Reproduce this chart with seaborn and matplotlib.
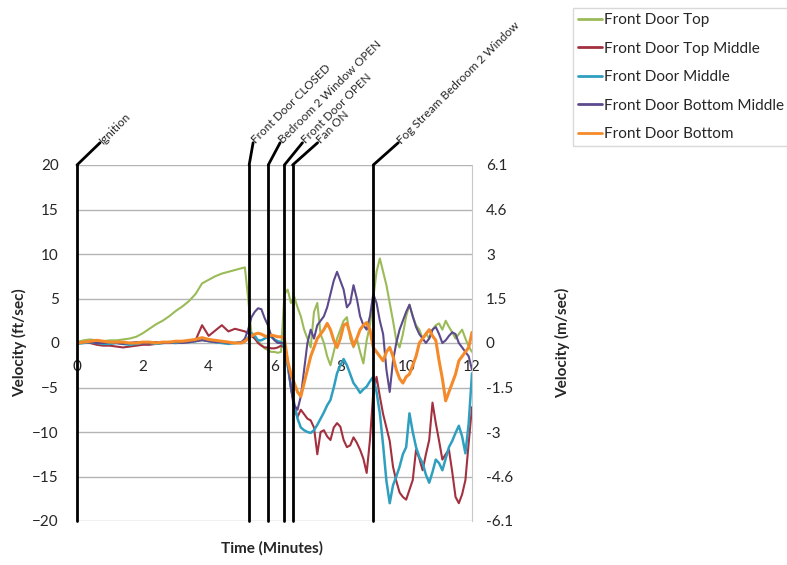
import numpy as np
import pandas as pd
import seaborn as sns
import matplotlib.pyplot as plt
from matplotlib.lines import Line2D

# time in minutes (0.2 min steps to 5, then 0.1 min steps)
times = [0.0, 0.2, 0.4, 0.6, 0.8, 1.0, 1.2, 1.4, 1.6, 1.8, 2.0, 2.2, 2.4,
         2.6, 2.8, 3.0, 3.2, 3.4, 3.6, 3.8, 4.0, 4.2, 4.4, 4.6, 4.8, 5.0,
         5.1, 5.2, 5.3, 5.4, 5.5, 5.6, 5.7, 5.8, 5.9, 6.0,
         6.1, 6.2, 6.3, 6.4, 6.5, 6.6, 6.7, 6.8, 6.9, 7.0,
         7.1, 7.2, 7.3, 7.4, 7.5, 7.6, 7.7, 7.8, 7.9, 8.0,
         8.1, 8.2, 8.3, 8.4, 8.5, 8.6, 8.7, 8.8, 8.9, 9.0,
         9.1, 9.2, 9.3, 9.4, 9.5, 9.6, 9.7, 9.8, 9.9, 10.0,
         10.1, 10.2, 10.3, 10.4, 10.5, 10.6, 10.7, 10.8, 10.9, 11.0,
         11.1, 11.2, 11.3, 11.4, 11.5, 11.6, 11.7, 11.8, 11.9, 12.0]

door_top = [0.1, 0.3, 0.4, 0.3, 0.2, 0.3, 0.3, 0.4, 0.5, 0.7, 1.1, 1.6, 2.1,
            2.5, 3.0, 3.6, 4.1, 4.7, 5.5, 6.7, 7.1, 7.5, 7.8, 8.0, 8.2, 8.4,
            8.5, 5.0, 1.0, 0.5, 0.2, -0.2, -0.6, -0.8, -1.0, -1.0,
            -1.1, -1.0, 5.5, 6.0, 4.5, 5.2, 4.0, 3.0, 1.5, 0.5,
            -0.5, 3.5, 4.5, 1.0, 0.0, -1.5, -2.5, -1.0, 0.5, 1.5,
            2.5, 2.9, 0.5, -0.5, 0.5, -1.0, -2.3, 0.3, 2.0, 5.0,
            8.0, 9.5, 8.0, 6.5, 4.5, 2.5, 0.3, -0.5, 1.0, 3.0,
            4.3, 3.0, 2.0, 1.5, 0.5, 1.1, 0.5, 1.5, 2.0, 2.2,
            1.5, 2.5, 1.8, 1.2, 0.5, 1.0, 1.5, 0.5, -0.4, -1.0]

door_top_middle = [0.0, 0.1, 0.0, -0.2, -0.3, -0.3, -0.4, -0.5, -0.4, -0.3, -0.2, -0.2, -0.1,
                   0.0, 0.0, 0.0, 0.1, 0.1, 0.3, 2.0, 0.8, 1.4, 2.0, 1.3, 1.6, 1.4,
                   1.3, 1.1, 0.8, 0.5, 0.0, -0.3, -0.5, -0.5, -0.6, -0.6,
                   -0.5, -0.3, -0.5, -2.5, -5.0, -7.5, -8.3, -7.5, -8.0, -8.5,
                   -8.7, -9.5, -12.5, -10.0, -9.8, -10.5, -10.9, -9.5, -9.0, -9.4,
                   -10.9, -11.7, -11.5, -10.6, -11.2, -12.0, -13.0, -14.6, -10.9, -5.6,
                   -3.8, -6.0, -8.0, -9.5, -11.0, -13.9, -15.5, -16.8, -17.3, -17.6,
                   -16.5, -15.4, -12.0, -13.0, -14.3, -12.5, -10.9, -6.7, -9.0, -11.0,
                   -13.1, -12.5, -12.0, -14.5, -17.3, -18.0, -17.0, -15.4, -11.2, -7.2]

door_middle = [-0.1, 0.0, 0.1, 0.0, -0.1, -0.1, 0.0, -0.1, -0.2, -0.1, 0.0, 0.0, -0.1,
               0.0, 0.1, 0.0, 0.1, 0.1, 0.2, 0.4, 0.2, 0.1, 0.0, -0.1, 0.0, 0.1,
               0.2, 0.6, 1.1, 0.8, 0.3, 0.3, 0.5, 0.7, 0.7, 0.4,
               0.2, 0.1, -0.5, -2.5, -5.0, -6.8, -8.5, -9.5, -9.8, -10.0,
               -10.1, -9.8, -9.2, -8.5, -7.8, -7.0, -6.4, -5.0, -3.4, -2.5,
               -1.8, -2.5, -3.5, -4.5, -5.0, -5.6, -5.2, -4.9, -4.3, -3.8,
               -5.5, -7.9, -11.5, -15.5, -18.0, -16.0, -15.0, -13.9, -12.5, -11.7,
               -7.9, -10.0, -11.7, -12.8, -13.5, -14.8, -15.7, -14.5, -13.1, -13.5,
               -14.3, -13.0, -11.7, -11.0, -10.1, -9.3, -10.5, -12.4, -9.0, -3.4]

door_bottom_middle = [0.0, 0.1, 0.1, 0.0, 0.0, 0.1, 0.0, -0.1, 0.0, 0.1, 0.0, 0.0, 0.1,
                      0.0, 0.0, 0.1, 0.0, 0.1, 0.2, 0.3, 0.2, 0.1, 0.1, 0.0, 0.0, 0.1,
                      0.5, 1.5, 2.9, 3.5, 3.9, 3.8, 2.8, 2.0, 0.8, 0.3,
                      0.0, 0.0, 0.0, -2.0, -5.0, -7.0, -7.5, -6.0, -3.0, 0.0,
                      1.5, 0.5, 2.0, 2.5, 3.0, 4.0, 5.5, 7.0, 8.0, 7.0,
                      6.0, 4.0, 4.5, 6.5, 5.0, 3.0, 2.0, 1.5, 3.0, 5.5,
                      4.5, 2.5, 1.0, -3.0, -5.5, -2.0, 0.0, 1.5, 2.5, 3.5,
                      4.3, 3.0, 1.8, 1.0, 0.5, 0.0, 0.5, 1.5, 1.8, 1.0,
                      0.0, 0.3, 0.8, 1.2, 1.0, 0.0, -0.5, -1.0, -1.5, -3.0]

door_bottom = [0.0, 0.1, 0.2, 0.3, 0.2, 0.1, 0.1, 0.1, 0.0, 0.0, 0.1, 0.1, 0.0,
               0.1, 0.1, 0.2, 0.2, 0.3, 0.4, 0.6, 0.4, 0.3, 0.2, 0.1, 0.0, 0.0,
               0.2, 0.5, 0.8, 1.0, 1.1, 1.0, 0.8, 0.7, 0.9, 0.8,
               0.7, 0.7, 0.5, -2.0, -3.5, -4.5, -5.5, -6.0, -4.5, -3.0,
               -1.5, -0.5, 0.5, 1.0, 1.5, 2.2, 1.5, 0.3, -0.5, 0.5,
               2.0, 2.2, 1.0, -0.3, 0.5, 1.5, 2.0, 2.3, 1.5, -0.5,
               -1.0, -1.5, -2.0, -1.0, -0.5, -1.5, -3.0, -4.0, -4.5, -3.8,
               -3.5, -2.5, -1.5, 0.0, 0.5, 1.0, 1.5, 0.8, 0.3, -2.0,
               -4.0, -6.5, -5.5, -4.5, -3.5, -2.0, -1.5, -1.0, -0.5, 1.2]

series_names = ['Front Door Top', 'Front Door Top Middle', 'Front Door Middle',
                'Front Door Bottom Middle', 'Front Door Bottom']
series_values = [door_top, door_top_middle, door_middle, door_bottom_middle, door_bottom]
colors = ['#9bbb59', '#a3303f', '#2f9fc0', '#5c4a8c', '#f58a2a']
widths = [1.5, 1.5, 1.8, 1.5, 2.2]

event_times = [0.0, 5.23, 5.81, 6.3, 6.55, 9.0]
event_labels = ['Ignition', 'Front Door CLOSED', 'Bedroom 2 Window OPEN',
                'Front Door OPEN', 'Fan ON', 'Fog Stream Bedroom 2 Window']

ft_ticks = [-20, -15, -10, -5, 0, 5, 10, 15, 20]
ms_labels = ['-6.1', '-4.6', '-3', '-1.5', '0', '1.5', '3', '4.6', '6.1']
x_ticks = [0, 2, 4, 6, 8, 10, 12]

sns.set_style('white')
plt.rcParams['font.family'] = ['Lato', 'DejaVu Sans']

fig = plt.figure(figsize=(7.87, 5.65), dpi=100)
ax = fig.add_axes([77 / 787, 44 / 565, 395 / 787, 356 / 565])

for name, vals, col, lw in zip(series_names, series_values, colors, widths):
    df = pd.DataFrame({'Time': times, 'Velocity': vals})
    sns.lineplot(data=df, x='Time', y='Velocity', color=col, linewidth=lw,
                 ax=ax, sort=False, label=name, legend=False)

ax.set_xlim(0, 12)
ax.set_ylim(-20, 20)
ax.set_yticks(ft_ticks)
ax.set_xticks(x_ticks)
ax.yaxis.grid(True, color='#b4b4b4', linewidth=1)
ax.xaxis.grid(False)
for s in ['left', 'top']:
    ax.spines[s].set_visible(False)
ax.spines['right'].set_color('#c8c8c8')
ax.spines['bottom'].set_position(('data', 0))
ax.spines['bottom'].set_color('none')
ax.tick_params(axis='x', length=0, pad=12, labelsize=11)
ax.tick_params(axis='y', length=0, pad=13, labelsize=11)
ax.set_xlabel('')
ax.set_ylabel('Velocity (ft/sec)', fontsize=11, fontweight='bold', labelpad=4)
fig.text(272 / 787, 1 - 548 / 565, 'Time (Minutes)', fontsize=11,
         fontweight='bold', ha='center', va='center')

# event markers
offsets = [0.7, 0.12, 0.36, 0.55, 0.76, 0.76]
for t, lab, dx in zip(event_times, event_labels, offsets):
    ax.plot([t, t], [-20, 20], color='black', linewidth=2, clip_on=False, zorder=5)
    ax.plot([t, t + dx], [20, 22.5], color='black', linewidth=2, clip_on=False, zorder=5)
    ax.text(t + dx + 0.02, 22.6, lab, rotation=45, rotation_mode='anchor',
            ha='left', va='center', fontsize=8.5)

ax2 = ax.twinx()
ax2.set_ylim(-20, 20)
ax2.set_yticks(ft_ticks)
ax2.set_yticklabels(ms_labels)
ax2.tick_params(axis='y', length=0, pad=10, labelsize=11)
for s in ax2.spines.values():
    s.set_visible(False)
ax2.set_ylabel('Velocity (m/sec)', fontsize=11, fontweight='bold', labelpad=30)

handles = [Line2D([], [], color=c, linewidth=2) for c in colors]
leg = fig.legend(handles, series_names, loc='upper left',
                 bbox_to_anchor=(565 / 787, 1.0), frameon=True, fancybox=False,
                 edgecolor='#d0d0d0', fontsize=11, handlelength=1.6,
                 handletextpad=0.1, labelspacing=0.95, borderpad=0.35)

plt.savefig('out.png', dpi=100)
plt.close()
